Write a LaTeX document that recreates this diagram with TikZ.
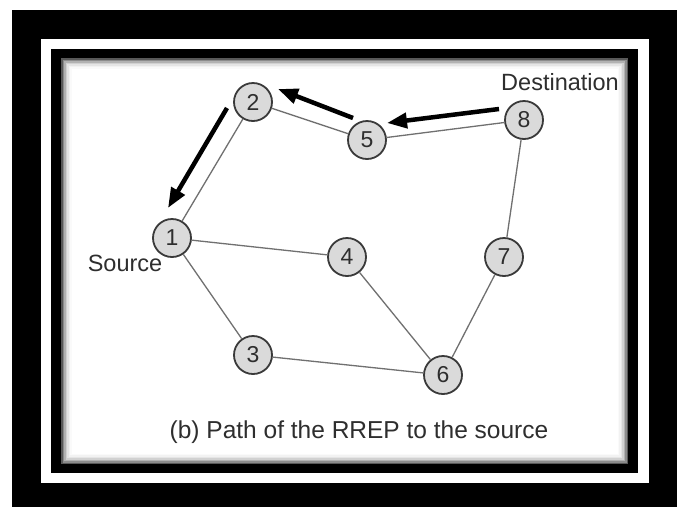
\documentclass[tikz,border=0pt]{standalone}
\usepackage{fontspec}
\setmainfont{Liberation Sans}
\usetikzlibrary{arrows.meta}
\definecolor{nodefill}{HTML}{DADADA}
\definecolor{nodeline}{HTML}{3A3A3A}
\definecolor{linkgray}{HTML}{707070}
\definecolor{textgray}{HTML}{2E2E2E}

\begin{document}
\begin{tikzpicture}[x=1pt,y=-1pt,
  mnode/.style={circle,draw=nodeline,fill=nodefill,line width=1.8pt,
    minimum size=38pt,inner sep=0pt,text=textgray,
    font=\fontsize{23}{23}\selectfont},
  link/.style={draw=linkgray,line width=1.3pt},
  rrep/.style={line width=4.5pt,-{Triangle[length=20pt,width=15pt]}},
  lbl/.style={inner sep=0pt,text=textgray,font=\fontsize{23.5}{24}\selectfont}]
\useasboundingbox (0,0) rectangle (677,507);
% frames
\fill[white] (0,0) rectangle (677,507);
\fill[black] (12,10) rectangle (677,507);
\fill[white] (41,39) rectangle (649,483);
\fill[black] (51,49) rectangle (638,473);
% inner shadow
\foreach \d/\w in {0/35,1.5/55,3/70,4.5/82,6/90,7.5/95,9/98,10.5/100}
  \fill[white!\w!black] (61+\d,58+\d) rectangle (628-\d,464-\d);

% nodes
\node[mnode] (n1) at (172,238) {1};
\node[mnode] (n2) at (253,102) {2};
\node[mnode] (n3) at (253,355) {3};
\node[mnode] (n4) at (347,257) {4};
\node[mnode] (n5) at (367,140) {5};
\node[mnode] (n6) at (443,375) {6};
\node[mnode] (n7) at (504,257) {7};
\node[mnode] (n8) at (524,120) {8};

% links
\draw[link] (n1) -- (n2) (n2) -- (n5) (n5) -- (n8) (n8) -- (n7)
  (n7) -- (n6) (n6) -- (n4) (n4) -- (n1) (n1) -- (n3) (n3) -- (n6);

% RREP path
\coordinate (t8) at (499,109); \coordinate (h5) at (387,123);
\coordinate (t5) at (353,118); \coordinate (h2) at (278,89);
\coordinate (t2) at (227,108); \coordinate (h1) at (168,208);
\draw[rrep] (t8) -- (h5);
\draw[rrep] (t5) -- (h2);
\draw[rrep] (t2) -- (h1);

% labels
\node[lbl] (dest) at (560,82) {Destination};
\node[lbl] (src) at (125,263) {Source};
\node[lbl,font=\fontsize{24.5}{25}\selectfont] (caption) at (359,432)
  {(b) Path of the RREP to the source};
\end{tikzpicture}
\end{document}
